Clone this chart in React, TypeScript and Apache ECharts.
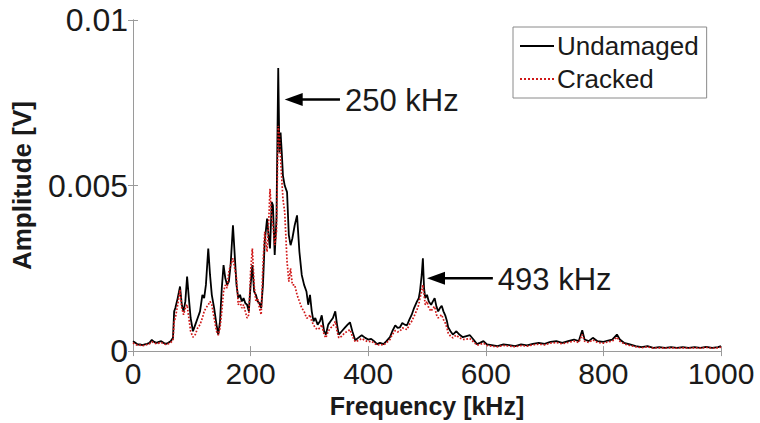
import React, { useEffect, useRef } from "react";
import * as echarts from "echarts";

// Frequency grid (kHz)
const freqKHz = [
  0, 4, 8, 12, 16, 20, 24, 28, 32, 36, 40, 44, 48, 52, 56, 60, 64, 68,
  70, 72, 76, 80, 83, 86, 89, 92, 95, 98,
  102, 106, 110, 114, 118, 121, 124, 128, 131, 134,
  138, 142, 145, 148, 151, 154, 157, 160, 163, 166,
  170, 173, 176, 179, 182, 185, 188, 191, 194, 197,
  200, 203, 206, 209, 212, 215, 218, 221, 224, 228,
  231, 233, 236, 238, 241, 244, 247, 249, 251, 253,
  255, 258, 262, 265, 268, 271, 275, 279, 283, 287,
  291, 295, 298, 301, 304, 307, 310, 314, 318, 321,
  325, 328, 332, 336, 340, 344, 347, 350, 355, 360,
  365, 369, 373, 378, 383, 389, 395, 400, 405, 410,
  415, 420, 426, 431, 437, 441, 446, 450, 454, 458,
  462, 466, 470, 474, 478, 483, 486, 488, 491, 493,
  495, 497, 500, 503, 507, 510, 513, 516, 519, 522,
  525, 528, 531, 534, 536, 540, 544, 547, 550, 555,
  561, 567, 573, 579, 585, 590, 596, 602, 610, 620,
  630, 640, 650, 660, 670, 680, 690, 700, 710, 720,
  730, 740, 750, 758, 764, 768, 775, 782, 790, 800,
  808, 815, 823, 828, 835, 845, 855, 865, 875, 885,
  895, 905, 915, 925, 935, 945, 955, 965, 975, 985,
  995, 1000,
];

// Undamaged amplitude (mV)
const undamagedMv = [
  0.30, 0.25, 0.20, 0.20, 0.18, 0.20, 0.22, 0.25, 0.34, 0.28, 0.25, 0.28, 0.30, 0.25, 0.22, 0.25, 0.30, 0.40,
  1.20, 1.30, 1.60, 1.95, 1.40, 1.20, 1.50, 2.25, 1.60, 1.00,
  0.60, 0.80, 1.00, 1.20, 1.70, 1.60, 2.00, 3.10, 2.30, 1.70,
  1.30, 0.80, 0.50, 0.90, 1.90, 2.60, 2.20, 2.00, 2.10, 2.60,
  3.80, 2.90, 2.00, 1.60, 1.70, 1.50, 1.60, 1.45, 1.40, 1.20,
  2.00, 2.60, 1.80, 1.70, 1.50, 1.45, 1.30, 2.00, 3.30, 4.00,
  3.40, 3.10, 4.50, 4.40, 2.90, 4.00, 8.55, 6.00, 6.60, 6.00,
  5.30, 5.00, 4.80, 3.50, 3.20, 3.40, 3.80, 4.10, 3.00, 2.30,
  2.00, 1.80, 1.40, 1.70, 1.20, 0.90, 1.00, 0.80, 0.90, 1.08,
  0.60, 0.50, 0.80, 0.90, 1.00, 1.20, 0.80, 0.50, 0.60, 0.70,
  0.80, 0.87, 0.60, 0.33, 0.40, 0.48, 0.40, 0.35, 0.37, 0.30,
  0.21, 0.25, 0.21, 0.30, 0.42, 0.60, 0.78, 0.70, 0.72, 0.85,
  0.80, 0.78, 0.95, 1.10, 1.30, 1.50, 1.60, 1.80, 2.30, 2.80,
  1.90, 1.60, 1.70, 1.50, 1.40, 1.50, 1.60, 1.35, 1.20, 1.30,
  1.37, 1.20, 1.08, 0.90, 0.72, 0.60, 0.50, 0.55, 0.60, 0.50,
  0.42, 0.45, 0.48, 0.35, 0.21, 0.25, 0.30, 0.20, 0.18, 0.15,
  0.20, 0.18, 0.15, 0.20, 0.17, 0.22, 0.25, 0.22, 0.28, 0.30,
  0.25, 0.30, 0.35, 0.30, 0.63, 0.35, 0.30, 0.40, 0.30, 0.28,
  0.32, 0.35, 0.50, 0.35, 0.25, 0.20, 0.15, 0.12, 0.15, 0.10,
  0.12, 0.10, 0.12, 0.10, 0.12, 0.10, 0.12, 0.10, 0.13, 0.10,
  0.12, 0.15,
];

// Cracked amplitude (mV)
const crackedMv = [
  0.25, 0.20, 0.18, 0.18, 0.16, 0.18, 0.20, 0.22, 0.28, 0.25, 0.22, 0.24, 0.26, 0.22, 0.20, 0.22, 0.26, 0.32,
  0.90, 1.00, 1.40, 1.85, 1.30, 1.10, 1.30, 1.40, 1.00, 0.60,
  0.42, 0.50, 0.70, 0.80, 1.00, 1.20, 1.30, 1.40, 1.50, 1.40,
  1.00, 0.60, 0.48, 0.70, 1.20, 1.80, 2.00, 1.90, 2.40, 2.60,
  2.80, 2.50, 2.20, 1.40, 1.50, 1.30, 1.40, 1.20, 1.00, 1.10,
  2.40, 3.10, 2.00, 1.50, 1.60, 1.30, 1.10, 2.60, 3.60, 3.00,
  4.00, 4.90, 4.00, 3.80, 3.20, 3.60, 6.80, 6.50, 5.80, 5.20,
  4.60, 4.20, 2.70, 2.10, 2.50, 2.00, 2.00, 1.70, 1.50, 1.30,
  1.20, 1.00, 1.00, 1.10, 0.90, 0.80, 0.70, 0.65, 0.70, 0.80,
  0.50, 0.40, 0.60, 0.70, 0.75, 0.90, 0.60, 0.40, 0.45, 0.55,
  0.60, 0.65, 0.45, 0.28, 0.32, 0.38, 0.32, 0.28, 0.30, 0.25,
  0.18, 0.20, 0.18, 0.25, 0.35, 0.50, 0.62, 0.58, 0.60, 0.70,
  0.68, 0.65, 0.80, 0.90, 1.05, 1.25, 1.40, 1.60, 1.80, 2.00,
  1.70, 1.40, 1.50, 1.30, 1.20, 1.30, 1.35, 1.10, 1.00, 1.05,
  1.10, 0.95, 0.85, 0.70, 0.55, 0.45, 0.40, 0.45, 0.48, 0.40,
  0.35, 0.36, 0.38, 0.28, 0.18, 0.20, 0.24, 0.17, 0.15, 0.13,
  0.17, 0.15, 0.13, 0.17, 0.15, 0.19, 0.21, 0.19, 0.24, 0.26,
  0.22, 0.26, 0.30, 0.26, 0.50, 0.30, 0.26, 0.34, 0.26, 0.24,
  0.28, 0.30, 0.42, 0.30, 0.22, 0.17, 0.13, 0.10, 0.13, 0.09,
  0.10, 0.09, 0.10, 0.09, 0.10, 0.09, 0.10, 0.09, 0.11, 0.09,
  0.10, 0.12,
];

const seriesNames = ["Undamaged", "Cracked"];

// Peak annotations: arrow tip (kHz, V), arrow tail (kHz)
const annLabels = ["250 kHz", "493 kHz"];
const annTipFreq = [258, 500];
const annTailFreq = [352, 612];
const annAmp = [0.0076, 0.0022];

const FONT = "'Liberation Sans', Arial, Helvetica, sans-serif";
const AXIS_GRAY = "#9a9a9a";
const TEXT = "#1a1a1a";

export default function App() {
  const ref = useRef<HTMLDivElement>(null);

  useEffect(() => {
    if (!ref.current) return;
    const chart = echarts.init(ref.current, undefined, { renderer: "svg" });

    const toPairs = (vals: number[]) => freqKHz.map((f, i) => [f, vals[i] / 1000]);

    const axisCommon = {
      min: 0,
      axisLine: { show: true, lineStyle: { color: AXIS_GRAY, width: 1 } },
      axisTick: { show: true, inside: true, length: 5, lineStyle: { color: AXIS_GRAY } },
      splitLine: { show: false },
    };

    const option: any = {
      animation: false,
      backgroundColor: "#ffffff",
      textStyle: { fontFamily: FONT },
      grid: { left: 133, right: 39, top: 20, bottom: 69, containLabel: false },
      legend: {
        orient: "vertical",
        left: 513,
        top: 27,
        padding: [6, 8, 6, 6],
        itemGap: 7,
        itemWidth: 34,
        itemHeight: 26,
        borderColor: "#8a8a8a",
        borderWidth: 1,
        backgroundColor: "#ffffff",
        itemStyle: { opacity: 0 },
        textStyle: { fontSize: 26, color: TEXT, fontFamily: FONT, padding: [0, 0, 0, -2] },
        data: seriesNames,
      },
      xAxis: [
        {
          ...axisCommon,
          type: "value",
          max: 1000,
          interval: 200,
          name: "Frequency [kHz]",
          nameLocation: "middle",
          nameGap: 41,
          nameTextStyle: { fontSize: 25, fontWeight: "bold", color: TEXT, fontFamily: FONT },
          axisLabel: {
            fontSize: 30,
            color: TEXT,
            margin: 7,
            fontFamily: FONT,
            formatter: (v: number) => String(v),
          },
        },
        {
          ...axisCommon,
          type: "value",
          position: "top",
          max: 1000,
          interval: 200,
          axisLabel: { show: false },
        },
      ],
      yAxis: [
        {
          ...axisCommon,
          type: "value",
          max: 0.01,
          interval: 0.005,
          name: "Amplitude [V]",
          nameLocation: "middle",
          nameGap: 98,
          nameTextStyle: { fontSize: 26, fontWeight: "bold", color: TEXT, fontFamily: FONT },
          axisLabel: { fontSize: 32, color: TEXT, margin: 5, fontFamily: FONT },
        },
        {
          ...axisCommon,
          type: "value",
          position: "right",
          max: 0.01,
          interval: 0.005,
          axisLabel: { show: false },
        },
      ],
      series: [
        {
          name: seriesNames[0],
          type: "line",
          xAxisIndex: 0,
          yAxisIndex: 0,
          data: toPairs(undamagedMv),
          symbol: "none",
          lineStyle: { color: "#000000", width: 1.8 },
          itemStyle: { color: "#000000" },
        },
        {
          name: seriesNames[1],
          type: "line",
          xAxisIndex: 0,
          yAxisIndex: 0,
          data: toPairs(crackedMv),
          symbol: "none",
          lineStyle: { color: "#d01818", width: 1.7, type: "dotted" },
          itemStyle: { color: "#d01818" },
        },
      ],
    };

    chart.setOption(option);

    const graphics: any[] = [];
    annLabels.forEach((label, i) => {
      const tip = chart.convertToPixel({ seriesIndex: 0 }, [annTipFreq[i], annAmp[i]]) as number[];
      const tail = chart.convertToPixel({ seriesIndex: 0 }, [annTailFreq[i], annAmp[i]]) as number[];
      const [tx, ty] = tip;
      const ex = tail[0];
      graphics.push({
        type: "polygon",
        shape: { points: [[tx, ty], [tx + 18, ty - 6.5], [tx + 18, ty + 6.5]] },
        style: { fill: "#000000" },
        z: 100,
      });
      graphics.push({
        type: "line",
        shape: { x1: tx + 14, y1: ty, x2: ex, y2: ty },
        style: { stroke: "#000000", lineWidth: 2.6 },
        z: 100,
      });
      graphics.push({
        type: "text",
        x: ex + 5,
        y: ty + 1,
        style: {
          text: label,
          fontSize: 31,
          fontFamily: FONT,
          fill: TEXT,
          verticalAlign: "middle",
          align: "left",
        },
        z: 100,
      });
    });
    chart.setOption({ graphic: graphics });

    return () => chart.dispose();
  }, []);

  return (
    <div
      ref={ref}
      style={{ position: "fixed", left: 0, top: 0, width: 760, height: 423, background: "#fff" }}
    />
  );
}
